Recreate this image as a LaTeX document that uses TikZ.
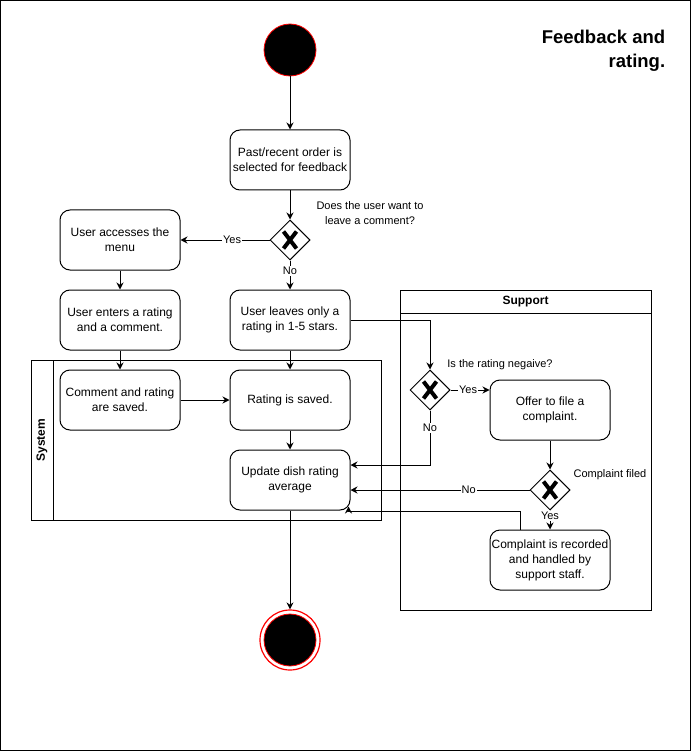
\documentclass[tikz,border=0pt]{standalone}
\usepackage{fontspec}
\setmainfont{Liberation Sans}
\usetikzlibrary{shapes.geometric,arrows.meta}
\begin{document}
\begin{tikzpicture}[x=1pt,y=-1pt,line width=1pt,
  >={Stealth[length=7pt,width=7pt]},
  act/.style={draw,rounded corners=10pt,minimum width=120pt,minimum height=60pt,
    align=center,inner sep=1pt,font=\fontsize{12}{15}\selectfont},
  gate/.style={draw,diamond,minimum size=40pt,inner sep=0pt,fill=white,
    path picture={\draw[line width=4pt] (path picture bounding box.center) +(-6.5,-8.5) -- +(6.5,8.5)
      (path picture bounding box.center) +(-6.5,8.5) -- +(6.5,-8.5);}},
  lbl/.style={align=center,font=\fontsize{11}{15}\selectfont},
  elbl/.style={lbl,fill=white,inner sep=1pt},
  pooltitle/.style={font=\bfseries\fontsize{12}{14}\selectfont}]
\useasboundingbox (0,0) rectangle (691,751);
\draw (0.5,0.5) rectangle (690.5,750.5);
\node[anchor=north east,align=right,font=\bfseries\fontsize{18.5}{24}\selectfont] (title) at (669,26) {Feedback and\\rating.};
% swimlanes
\draw (31,360) rectangle (381,520);
\draw (53,360) -- (53,520);
\node[pooltitle,rotate=90] (system) at (42,440) {System};
\draw (400,290) rectangle (651,610);
\draw (400,313) -- (651,313);
\node[pooltitle] (support) at (525.5,301.5) {Support};
% nodes
\node[circle,draw=red,fill=black,minimum size=52pt,inner sep=0pt,line width=0.8pt] (start) at (290,50) {};
\node[act] (order) at (290,160) {Past/recent order is\\selected for feedback};
\node[gate] (gwcomment) at (290,240) {};
\node[lbl] (askcomment) at (370,213) {Does the user want to\\leave a comment?};
\node[act] (accessmenu) at (120,240) {User accesses the\\menu};
\node[act] (entercomment) at (120,320) {User enters a rating\\and a comment.};
\node[act] (rateonly) at (290,320) {User leaves only a\\rating in 1-5 stars.};
\node[act] (commentsaved) at (120,400) {Comment and rating\\are saved.};
\node[act] (ratingsaved) at (290,400) {Rating is saved.};
\node[act] (updateavg) at (290,480) {Update dish rating\\average};
\node[gate] (gwnegative) at (430,390) {};
\node[lbl] (asknegative) at (500,365) {Is the rating negaive?};
\node[act] (offer) at (550,410) {Offer to file a\\complaint.};
\node[gate] (gwfiled) at (550,490) {};
\node[lbl] (askfiled) at (610,475) {Complaint filed};
\node[act] (recorded) at (550,560) {Complaint is recorded\\and handled by\\support staff.};
\node[circle,draw=red,line width=1.2pt,minimum size=60pt,inner sep=0pt] (stop) at (290,640) {};
\node[circle,draw=red,fill=black,minimum size=52pt,inner sep=0pt,line width=0.8pt] (stopin) at (290,640) {};
% connectors
\draw[->] (start) -- (order);
\draw[->] (order) -- (gwcomment);
\draw[->] (gwcomment.west) -- node[elbl,pos=0.42] {Yes} (accessmenu.east);
\draw[->] (gwcomment.south) -- node[elbl,pos=0.37] {No} (rateonly.north);
\draw[->] (accessmenu) -- (entercomment);
\draw[->] (entercomment) -- (commentsaved);
\draw[->] (rateonly) -- (ratingsaved);
\draw[->] (commentsaved) -- (ratingsaved);
\draw[->] (ratingsaved) -- (updateavg);
\draw[->] (updateavg) -- (stop);
\draw[->] (rateonly.east) -| (gwnegative.north);
\draw[->] (gwnegative.east) -- node[elbl,pos=0.45] {Yes} (gwnegative.east -| offer.west);
\draw[->] (gwnegative.south) |- node[elbl,pos=0.16] {No} ([yshift=15pt]updateavg.east);
\draw[->] (offer) -- (gwfiled);
\draw[->] (gwfiled.west) -- node[elbl,pos=0.34] {No} ([yshift=-10pt]updateavg.east);
\draw[->] (gwfiled.south) -- node[elbl,pos=0.3] {Yes} (recorded.north);
\draw[->] ([xshift=-30pt]recorded.north) |- ([xshift=-2pt,yshift=-1pt]updateavg.south east) -- ([xshift=-2pt,yshift=4pt]updateavg.south east);
\end{tikzpicture}
\end{document}
